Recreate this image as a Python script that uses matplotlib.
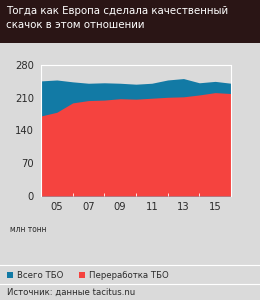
import matplotlib
matplotlib.use("Agg")
import matplotlib.pyplot as plt
from matplotlib.patches import Rectangle

years = [2004, 2005, 2006, 2007, 2008, 2009, 2010, 2011, 2012, 2013, 2014, 2015, 2016]
total = [246, 248, 244, 241, 242, 241, 239, 241, 248, 251, 242, 245, 241]
recycled = [171, 179, 199, 204, 205, 208, 207, 209, 211, 212, 216, 221, 219]
xtick_years = [2005, 2007, 2009, 2011, 2013, 2015]
xtick_labels = ['05', '07', '09', '11', '13', '15']
yticks = [0, 70, 140, 210, 280]

title = 'Тогда как Европа сделала качественный\nскачок в этом отношении'
unit = 'млн тонн'
legend_names = ['Всего ТБО', 'Переработка ТБО']
source = 'Источник: данные tacitus.nu'

BLUE = '#127aa5'
RED = '#f5433f'
BG = '#dadada'
HEAD = '#2a1515'
TXT = '#2b2b2b'

plt.rcParams['font.family'] = ['DejaVu Sans']
plt.rcParams['font.stretch'] = 'condensed'

fig = plt.figure(figsize=(2.6, 3.0), dpi=100)
fig.patch.set_facecolor(BG)

# header band
fig.patches.append(Rectangle((0, 1 - 43 / 300), 1, 43 / 300, transform=fig.transFigure,
                             facecolor=HEAD, edgecolor='none', zorder=0))
fig.text(6 / 260, 1 - 6 / 300, title, color='white', fontsize=8.2, va='top', ha='left',
         linespacing=1.45)

ax = fig.add_axes([41 / 260, 1 - 196 / 300, 190 / 260, 131 / 300])
ax.set_facecolor(BG)
ax.fill_between(years, 0, total, color=BLUE, linewidth=0)
ax.fill_between(years, 0, recycled, color=RED, linewidth=0)
ax.set_xlim(years[0], years[-1])
ax.set_ylim(0, 280)
ax.set_yticks(yticks)
ax.set_xticks(xtick_years)
ax.set_xticklabels(xtick_labels)
ax.set_xticks(years, minor=True)
ax.tick_params(axis='both', labelsize=8, colors=TXT, length=0)
ax.tick_params(axis='x', which='minor', length=2, color='white', direction='in')
ax.tick_params(axis='x', pad=4)
ax.tick_params(axis='y', pad=5)
for side in ['top', 'left', 'right']:
    ax.spines[side].set_color('white')
    ax.spines[side].set_linewidth(0.8)
ax.spines['bottom'].set_visible(False)

fig.text(10 / 260, 1 - 229 / 300, unit, color=TXT, fontsize=6, va='center', ha='left')

# separators
fig.add_artist(plt.Line2D([0, 1], [1 - 265 / 300] * 2, color='white', lw=0.8))
fig.add_artist(plt.Line2D([0, 1], [1 - 284 / 300] * 2, color='white', lw=0.8))

# legend
for x0, name, c in zip([7, 79], legend_names, [BLUE, RED]):
    fig.patches.append(Rectangle((x0 / 260, 1 - 278 / 300), 6 / 260, 6 / 300,
                                 transform=fig.transFigure, facecolor=c, edgecolor='none'))
    fig.text((x0 + 10) / 260, 1 - 275 / 300, name, color=TXT, fontsize=6.8, va='center', ha='left')

fig.text(7 / 260, 1 - 292 / 300, source, color=TXT, fontsize=6.8, va='center', ha='left')

fig.savefig('out.png', dpi=100, facecolor=BG)
